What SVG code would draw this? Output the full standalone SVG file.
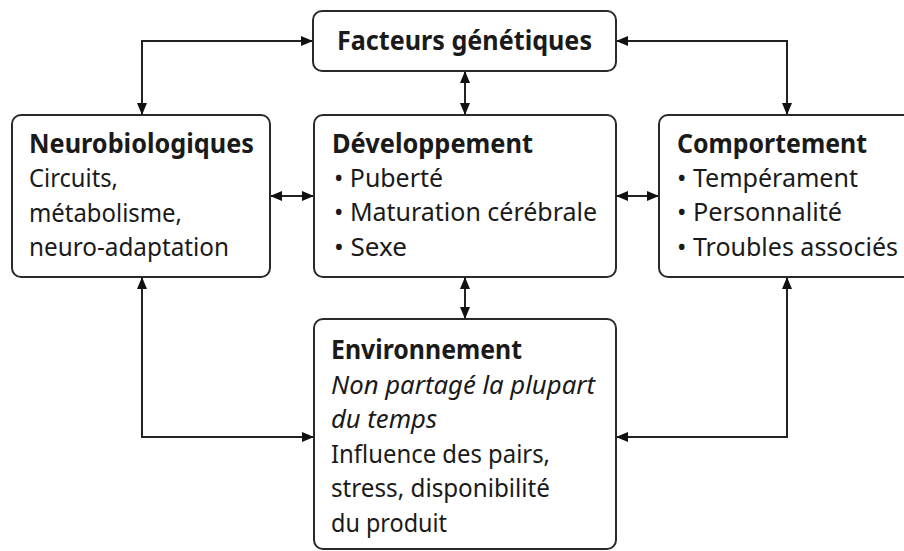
<svg xmlns="http://www.w3.org/2000/svg" width="904" height="551" viewBox="0 0 904 551">
<style>
.box{fill:#fff;stroke:#2a2a2a;stroke-width:2}
.t{font-family:"Noto Sans","Open Sans","DejaVu Sans",sans-serif;font-size:26px;fill:#1a1a1a}
.b{font-weight:bold}
.i{font-style:italic}
.c{fill:none;stroke:#222;stroke-width:2}
</style>
<defs>
<marker id="ah" viewBox="0 0 12 10" refX="12" refY="5" markerWidth="12" markerHeight="10" markerUnits="userSpaceOnUse" orient="auto-start-reverse">
<path d="M0,0 L12,5 L0,10 Z" fill="#111"/>
</marker>
</defs>
<g id="connectors">
<path class="c" d="M313,41 H142 V115" marker-start="url(#ah)" marker-end="url(#ah)"/>
<path class="c" d="M616,41 H787 V115" marker-start="url(#ah)" marker-end="url(#ah)"/>
<path class="c" d="M465,71 V115" marker-start="url(#ah)" marker-end="url(#ah)"/>
<path class="c" d="M270,196 H314" marker-start="url(#ah)" marker-end="url(#ah)"/>
<path class="c" d="M616,196 H659" marker-start="url(#ah)" marker-end="url(#ah)"/>
<path class="c" d="M465,277 V319" marker-start="url(#ah)" marker-end="url(#ah)"/>
<path class="c" d="M142,277 V437 H314" marker-start="url(#ah)" marker-end="url(#ah)"/>
<path class="c" d="M787,277 V437 H616" marker-start="url(#ah)" marker-end="url(#ah)"/>
</g>
<g id="facteurs">
<rect class="box" x="313" y="11" width="303" height="60" rx="9"/>
<text class="t b" x="337" y="50" textLength="255" lengthAdjust="spacingAndGlyphs">Facteurs génétiques</text>
</g>
<g id="neurobiologiques">
<rect class="box" x="12" y="115" width="258" height="162" rx="9"/>
<text class="t b" x="29" y="153" textLength="225" lengthAdjust="spacingAndGlyphs">Neurobiologiques</text>
<text class="t" x="29" y="187" textLength="89" lengthAdjust="spacingAndGlyphs">Circuits,</text>
<text class="t" x="29" y="222" textLength="153" lengthAdjust="spacingAndGlyphs">métabolisme,</text>
<text class="t" x="29" y="256" textLength="200" lengthAdjust="spacingAndGlyphs">neuro-adaptation</text>
</g>
<g id="developpement">
<rect class="box" x="314" y="115" width="302" height="162" rx="9"/>
<text class="t b" x="332" y="153" textLength="201" lengthAdjust="spacingAndGlyphs">Développement</text>
<text class="t" x="334" y="187" textLength="109" lengthAdjust="spacingAndGlyphs">• Puberté</text>
<text class="t" x="334" y="221" textLength="263" lengthAdjust="spacingAndGlyphs">• Maturation cérébrale</text>
<text class="t" x="334" y="256" textLength="73" lengthAdjust="spacingAndGlyphs">• Sexe</text>
</g>
<g id="comportement">
<rect class="box" x="659" y="115" width="260" height="162" rx="9"/>
<text class="t b" x="677" y="153" textLength="190" lengthAdjust="spacingAndGlyphs">Comportement</text>
<text class="t" x="677" y="187" textLength="181" lengthAdjust="spacingAndGlyphs">• Tempérament</text>
<text class="t" x="677" y="221" textLength="165" lengthAdjust="spacingAndGlyphs">• Personnalité</text>
<text class="t" x="677" y="256" textLength="221" lengthAdjust="spacingAndGlyphs">• Troubles associés</text>
</g>
<g id="environnement">
<rect class="box" x="314" y="319" width="302" height="230" rx="9"/>
<text class="t b" x="331" y="359" textLength="191" lengthAdjust="spacingAndGlyphs">Environnement</text>
<text class="t i" x="331" y="394" textLength="264" lengthAdjust="spacingAndGlyphs">Non partagé la plupart</text>
<text class="t i" x="331" y="428" textLength="106" lengthAdjust="spacingAndGlyphs">du temps</text>
<text class="t" x="331" y="463" textLength="219" lengthAdjust="spacingAndGlyphs">Influence des pairs,</text>
<text class="t" x="331" y="497" textLength="219" lengthAdjust="spacingAndGlyphs">stress, disponibilité</text>
<text class="t" x="331" y="532" textLength="116" lengthAdjust="spacingAndGlyphs">du produit</text>
</g>
</svg>
